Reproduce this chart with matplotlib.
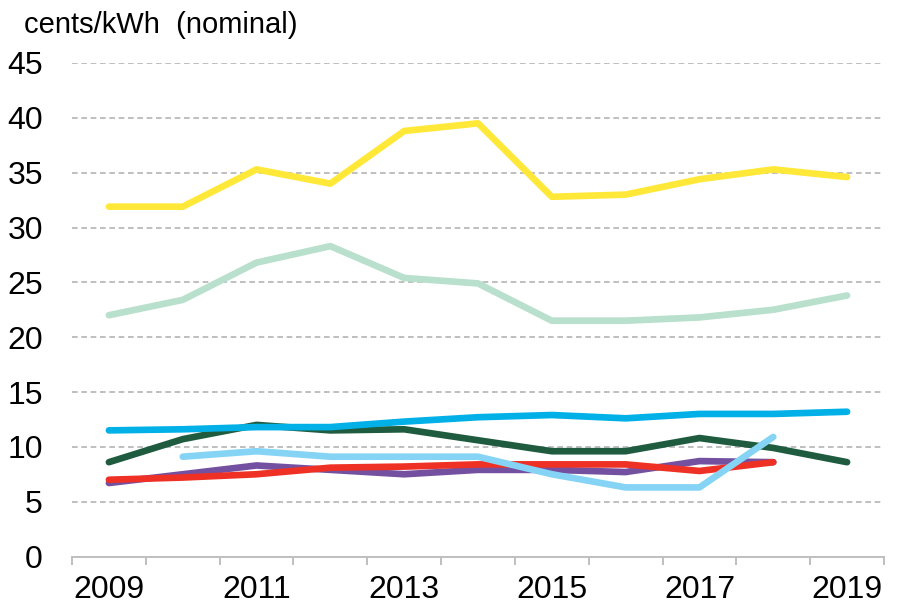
import numpy as np
import matplotlib.pyplot as plt

plt.rcParams['font.family'] = ['Liberation Sans', 'DejaVu Sans']

years = ["2009", "2010", "2011", "2012", "2013", "2014", "2015", "2016", "2017", "2018", "2019"]

yellow = [31.9, 31.9, 35.3, 34.0, 38.8, 39.5, 32.8, 33.0, 34.4, 35.3, 34.6]
mint = [22.0, 23.4, 26.8, 28.3, 25.4, 24.9, 21.5, 21.5, 21.8, 22.5, 23.8]
blue = [11.5, 11.6, 11.8, 11.8, 12.3, 12.7, 12.9, 12.6, 13.0, 13.0, 13.2]
dark_green = [8.6, 10.7, 12.0, 11.5, 11.6, 10.6, 9.6, 9.6, 10.8, 9.9, 8.6]
sky = [np.nan, 9.1, 9.6, 9.1, 9.1, 9.1, 7.5, 6.3, 6.3, 10.9, np.nan]
purple = [6.7, 7.5, 8.3, 7.9, 7.5, 7.9, 7.9, 7.7, 8.7, 8.6, np.nan]
red = [7.0, 7.2, 7.5, 8.1, 8.2, 8.4, 8.4, 8.4, 7.8, 8.6, np.nan]

fig = plt.figure(figsize=(9.03, 6.06), dpi=100)
ax = fig.add_axes([72 / 903, 49.5 / 606, 812 / 903, 493.5 / 606])

x = np.arange(len(years))
lw = 4.8
ax.plot(x, dark_green, color="#1F5C3F", lw=lw, solid_capstyle="round", zorder=3)
ax.plot(x, purple, color="#7451A0", lw=lw, solid_capstyle="round", zorder=3)
ax.plot(x, red, color="#EE3124", lw=lw, solid_capstyle="round", zorder=4)
ax.plot(x, sky, color="#86D4F5", lw=lw, solid_capstyle="round", zorder=5)
ax.plot(x, blue, color="#00B0E6", lw=lw, solid_capstyle="round", zorder=5)
ax.plot(x, mint, color="#B8E0CC", lw=lw, solid_capstyle="round", zorder=5)
ax.plot(x, yellow, color="#FFE838", lw=lw, solid_capstyle="round", zorder=5)

ax.set_xlim(-0.5, len(years) - 0.5)
ax.set_ylim(0, 45)
ax.set_yticks(range(0, 46, 5))
ax.yaxis.grid(True, color="#BFBFBF", linestyle=(0, (2.9, 1.9)), lw=1.4)
ax.set_axisbelow(True)
ax.tick_params(axis="y", length=0, labelsize=23, pad=21)

ax.set_xticks(np.arange(-0.5, len(years), 1))
ax.set_xticklabels([])
ax.set_xticks(x[::2], minor=True)
ax.set_xticklabels(years[::2], minor=True)
ax.tick_params(axis="x", which="major", length=6, width=1.4, color="#BFBFBF", direction="out")
ax.tick_params(axis="x", which="minor", length=0, labelsize=23, pad=13)

for s in ["left", "right", "top"]:
    ax.spines[s].set_visible(False)
ax.spines["bottom"].set_color("#BFBFBF")
ax.spines["bottom"].set_linewidth(1.4)

fig.text(24 / 903, 1 - 33 / 606, "cents/kWh  (nominal)", fontsize=21, ha="left", va="baseline")

fig.savefig("out.png", dpi=100)
